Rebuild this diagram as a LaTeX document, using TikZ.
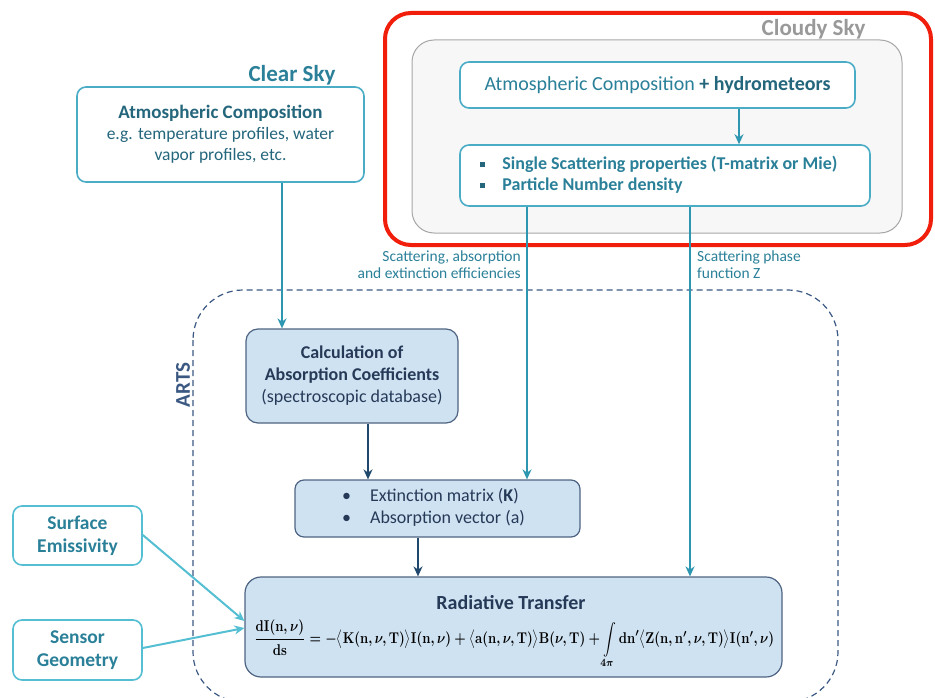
\documentclass[tikz,border=0pt]{standalone}
\usepackage{amsmath}
\usepackage{fontspec}
\setmainfont{Carlito}
\usetikzlibrary{positioning, arrows.meta}
\definecolor{tealline}{RGB}{75, 172, 198}
\definecolor{cyanline}{RGB}{84, 190, 210}
\definecolor{tealarrow}{RGB}{45, 150, 176}
\definecolor{tealtext}{RGB}{42, 128, 152}
\definecolor{darkteal}{RGB}{36, 102, 124}
\definecolor{navytext}{RGB}{38, 58, 88}
\definecolor{navyline}{RGB}{32, 72, 108}
\definecolor{boxedge}{RGB}{78, 100, 130}
\definecolor{lightbox}{RGB}{207, 226, 242}
\definecolor{artsblue}{RGB}{58, 88, 130}
\definecolor{cloudred}{RGB}{240, 30, 10}

\begin{document}
\begin{tikzpicture}[
        x=1pt, y=-1pt,
        skybox/.style={draw=tealline, line width=1.6pt, fill=white, rounded corners=9pt,
            font=\fontsize{17.5}{21}\selectfont, inner sep=0pt, align=center},
        sidebox/.style={skybox, draw=cyanline, font=\fontsize{19.5}{23}\selectfont\bfseries, text=tealtext},
        artsbox/.style={draw=boxedge, line width=1.2pt, fill=lightbox, rounded corners=12pt,
            font=\fontsize{18}{22}\selectfont, text=navytext, inner sep=0pt, align=center},
        lbl/.style={font=\fontsize{15.5}{17}\selectfont, text=tealtext},
        tealarr/.style={draw=tealarrow, line width=2pt, -{Stealth[length=10pt, width=9pt]}},
        cyanarr/.style={draw=cyanline, line width=2pt, -{Stealth[length=10pt, width=9pt]}},
        navyarr/.style={draw=navyline, line width=2pt, -{Stealth[length=10pt, width=9pt]}}
    ]
    \useasboundingbox (0, 0) rectangle (935, 698);

    % Cloudy sky frame (red highlight + gray panel)
    \draw[cloudred, line width=4pt, rounded corners=26pt] (385, 13) rectangle (931, 245);
    \draw[gray!70, line width=1pt, fill=gray!6, rounded corners=22pt] (412, 40) rectangle (902, 233);
    \node[font=\fontsize{23}{26}\selectfont\bfseries, text=gray!80, anchor=east] (cloudy) at (869, 29) {Cloudy Sky};

    % ARTS frame, runs off the bottom edge
    \begin{scope}
        \clip (0, 0) rectangle (935, 698);
        \draw[artsblue, line width=1.2pt, dashed, dash pattern=on 6pt off 4pt, rounded corners=50pt]
            (193, 290) rectangle (838, 702);
    \end{scope}
    \node[font=\fontsize{21}{24}\selectfont\bfseries, text=artsblue, rotate=90] (arts) at (183, 385) {ARTS};

    % Clear sky
    \node[font=\fontsize{23}{26}\selectfont\bfseries, text=tealtext] (clear) at (292, 75) {Clear Sky};
    \node[skybox, minimum width=287, minimum height=95, text=darkteal] (clearcomp) at (220.5, 134.5)
        {{\fontsize{19}{21}\selectfont\bfseries Atmospheric Composition}\\e.g. temperature profiles, water\\vapor profiles, etc.};

    % Cloudy sky boxes
    \node[skybox, minimum width=395, minimum height=46, text=tealtext, font=\fontsize{20}{24}\selectfont] (cloudcomp) at (657.5, 85)
        {Atmospheric Composition \textcolor{darkteal}{\textbf{+ hydrometeors}}};
    \node[skybox, minimum width=410, minimum height=61, text=tealtext, font=\fontsize{18}{21}\selectfont\bfseries] (scatter) at (665, 175.5)
        {\begin{tabular}{@{}l@{\hspace{17pt}}l@{}}
            \textcolor{darkteal}{\rule[2.5pt]{5pt}{5pt}} & Single Scattering properties (T-matrix or Mie)\\
            \textcolor{darkteal}{\rule[2.5pt]{5pt}{5pt}} & Particle Number density
        \end{tabular}\hspace{12pt}};

    % ARTS boxes
    \node[artsbox, minimum width=212, minimum height=94] (absorb) at (352, 376)
        {\textbf{Calculation of}\\\textbf{Absorption Coefficients}\\(spectroscopic database)};
    \node[artsbox, minimum width=285, minimum height=57, rounded corners=9pt] (extinct) at (437.5, 508.5)
        {\begin{tabular}{@{}l@{\hspace{19pt}}l@{}}
            \textbullet & Extinction matrix (\textbf{K})\\
            \textbullet & Absorption vector (a)
        \end{tabular}\hspace{8pt}};
    \node[artsbox, minimum width=537, minimum height=100, rounded corners=16pt] (radtrans) at (513.5, 627) {};
    \node[font=\fontsize{20}{24}\selectfont\bfseries, text=navytext, inner sep=0pt] (rttitle) at (511, 603) {Radiative Transfer};
    \node[anchor=north west, inner sep=0pt] (rteq) at (254, 620)
        {\resizebox*{520pt}{48pt}{\boldmath$\dfrac{\mathbf{dI}(\mathbf{n},\nu)}{\mathbf{ds}}
        = -\big\langle \mathbf{K}(\mathbf{n},\nu,\mathbf{T})\big\rangle \mathbf{I}(\mathbf{n},\nu)
        + \big\langle \mathbf{a}(\mathbf{n},\nu,\mathbf{T})\big\rangle \mathbf{B}(\nu,\mathbf{T})
        + \displaystyle\int\limits_{\mathbf{4\pi}} \mathbf{dn}'\big\langle \mathbf{Z}(\mathbf{n},\mathbf{n}',\nu,\mathbf{T})\big\rangle \mathbf{I}(\mathbf{n}',\nu)$}};

    % Side inputs
    \node[sidebox, minimum width=129, minimum height=59] (surface) at (77.5, 535.5) {Surface\\Emissivity};
    \node[sidebox, minimum width=129, minimum height=60] (sensor) at (77.5, 650) {Sensor\\Geometry};

    % Connectors
    \draw[tealarr] (cloudcomp.south -| 739, 0) -- (scatter.north -| 739, 0);
    \draw[tealarr] (clearcomp.south -| 282, 0) -- (absorb.north -| 282, 0);
    \draw[tealarr] (scatter.south -| 527, 0) -- (extinct.north -| 527, 0);
    \draw[tealarr] (scatter.south -| 690, 0) -- (radtrans.north -| 690, 0);
    \draw[navyarr] (absorb.south -| 368, 0) -- (extinct.north -| 368, 0);
    \draw[navyarr] (extinct.south -| 418, 0) -- (radtrans.north -| 418, 0);
    \draw[cyanarr] (surface.east |- 0, 535) -- (radtrans.west |- 0, 621);
    \draw[cyanarr] (sensor.east |- 0, 648) -- (radtrans.west |- 0, 628);

    % Labels on the scattering links
    \node[lbl, anchor=north east, align=right, inner sep=0pt] (effic) at (521, 251)
        {Scattering, absorption\\and extinction efficiencies};
    \node[lbl, anchor=north west, align=left, inner sep=0pt] (phase) at (697, 251)
        {Scattering phase\\function Z};

\end{tikzpicture}
\end{document}
